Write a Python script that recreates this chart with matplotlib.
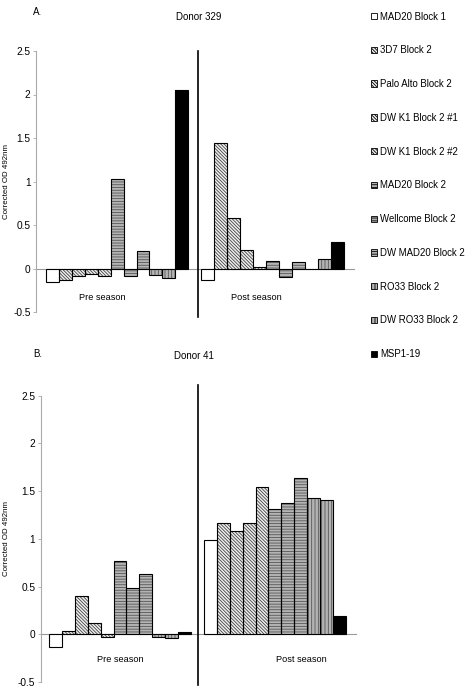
import matplotlib
matplotlib.use("Agg")
import matplotlib.pyplot as plt
from matplotlib.patches import Patch

plt.rcParams["font.family"] = ["Liberation Sans", "DejaVu Sans"]
plt.rcParams["hatch.linewidth"] = 0.6

# data
categories = ["Pre season", "Post season"]
antigens = ["MAD20 Block 1", "3D7 Block 2", "Palo Alto Block 2", "DW K1 Block 2 #1",
            "DW K1 Block 2 #2", "MAD20 Block 2", "Wellcome Block 2", "DW MAD20 Block 2",
            "RO33 Block 2", "DW RO33 Block 2", "MSP1-19"]
donor329_pre = [-0.15, -0.13, -0.085, -0.06, -0.088, 1.03, -0.09, 0.20, -0.077, -0.107, 2.05]
donor329_post = [-0.13, 1.445, 0.586, 0.215, 0.015, 0.088, -0.10, 0.077, 0.0, 0.107, 0.30]
donor41_pre = [-0.13, 0.035, 0.40, 0.115, -0.03, 0.765, 0.49, 0.63, -0.025, -0.035, 0.027]
donor41_post = [0.985, 1.17, 1.08, 1.17, 1.54, 1.31, 1.38, 1.635, 1.425, 1.41, 0.195]
yticks = [-0.5, 0, 0.5, 1, 1.5, 2, 2.5]
ytick_labels = ["-0.5", "0", "0.5", "1", "1.5", "2", "2.5"]

# fill, hatch, hatch colour for each antigen
diag = ("#eeeeee", "\\" * 10, "#444444")
horiz = ("#b4b4b4", "-" * 6, "#555555")
vert = ("#b4b4b4", "|" * 5, "#555555")
styles = [("white", "", "black"), diag, diag, diag, diag,
          horiz, horiz, horiz, vert, vert, ("black", "", "black")]

W, H = 472, 690
fig = plt.figure(figsize=(W / 100, H / 100), dpi=100)


def px_axes(x0, x1, ytop, ybot):
    return fig.add_axes([x0 / W, 1 - ybot / H, (x1 - x0) / W, (ybot - ytop) / H])


def draw_panel(ax, pre, post, centers, divider, pre_lab, post_lab, div_ext):
    width = 0.0815
    n = len(antigens)
    for g, vals in enumerate([pre, post]):
        for i, v in enumerate(vals):
            x = centers[g] + (i - (n - 1) / 2) * width
            fc, hatch, hc = styles[i]
            ax.bar(x, v, width, color=fc, hatch=hatch, edgecolor=hc, linewidth=0, zorder=2)
            ax.bar(x, v, width, fill=False, edgecolor="black", linewidth=0.8, zorder=3)
    ax.set_xlim(0, 2)
    ax.set_ylim(-0.5, 2.5)
    ax.set_yticks(yticks)
    ax.set_yticklabels(ytick_labels)
    ax.set_xticks([])
    for s in ["top", "right"]:
        ax.spines[s].set_visible(False)
    ax.spines["bottom"].set_position(("data", 0))
    ax.spines["bottom"].set_color("#999999")
    ax.spines["bottom"].set_zorder(1)
    ax.spines["left"].set_color("#aaaaaa")
    ax.tick_params(axis="y", length=2.5, width=0.6, color="#aaaaaa", pad=1.5, labelsize=7.3)
    ax.plot([divider, divider], div_ext, color="black", linewidth=1.2, clip_on=False, zorder=4)
    ax.text(pre_lab[0], pre_lab[1], categories[0], ha="center", va="center", fontsize=6.6)
    ax.text(post_lab[0], post_lab[1], categories[1], ha="center", va="center", fontsize=6.6)


ax1 = px_axes(36, 354, 51, 312)
draw_panel(ax1, donor329_pre, donor329_post, [0.51, 1.487], 1.02,
           (0.42, -0.33), (1.384, -0.33), [-0.56, 2.5])

ax2 = px_axes(40.7, 355.7, 395.7, 682)
draw_panel(ax2, donor41_pre, donor41_post, [0.503, 1.487], 1.0,
           (0.503, -0.26), (1.656, -0.26), [-0.53, 2.61])

fig.text(33 / W, 1 - 12 / H, "A.", fontsize=7, ha="left", va="center")
fig.text(199 / W, 1 - 17 / H, "Donor 329", fontsize=7, ha="center", va="center")
fig.text(33 / W, 1 - 354 / H, "B.", fontsize=7, ha="left", va="center")
fig.text(194 / W, 1 - 356 / H, "Donor 41", fontsize=7, ha="center", va="center")
fig.text(7 / W, 1 - 181.5 / H, "Corrected OD 492nm", fontsize=5.7, rotation=90,
         ha="center", va="center")
fig.text(7 / W, 1 - 539 / H, "Corrected OD 492nm", fontsize=5.7, rotation=90,
         ha="center", va="center")

handles = [Patch(facecolor=fc, hatch=h, edgecolor="black", linewidth=0.6)
           for fc, h, hc in styles]
fig.legend(handles, antigens, loc="upper left", bbox_to_anchor=(371 / W, 1 - 11.5 / H),
           frameon=False, fontsize=6.9, handlelength=0.65, handleheight=0.65,
           handletextpad=0.3, labelspacing=2.48, borderpad=0, borderaxespad=0)

fig.savefig("out.png", dpi=100)
